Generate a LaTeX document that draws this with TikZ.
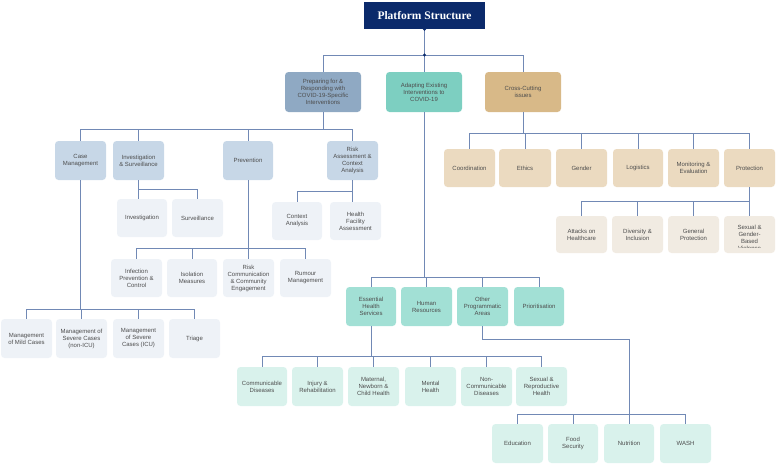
\documentclass[tikz,border=0pt]{standalone}
\usepackage{fontspec}
\newfontfamily\boxfont{Liberation Sans}
\newfontfamily\titlefont{Liberation Serif}
\definecolor{navy}{HTML}{0B2A6B}
\definecolor{lineC}{HTML}{7189B5}
\definecolor{txt}{HTML}{4D4D4D}
\definecolor{prepC}{HTML}{8FA9C3}
\definecolor{adaptC}{HTML}{7DCFC1}
\definecolor{crossC}{HTML}{D8B988}
\definecolor{blueB}{HTML}{C7D7E7}
\definecolor{blueC}{HTML}{EEF2F7}
\definecolor{tanB}{HTML}{EBDAC0}
\definecolor{tanC}{HTML}{F1EBE2}
\definecolor{tealB}{HTML}{A2E0D5}
\definecolor{tealC}{HTML}{D9F2EC}
\tikzset{
  box/.style={rounded corners=3.5pt, align=center, inner sep=0pt, text=txt,
    font=\boxfont\fontsize{6}{7}\selectfont},
  titlebox/.style={fill=navy, align=center, inner sep=0pt, text=white,
    font=\titlefont\bfseries\fontsize{11.5}{13}\selectfont},
  conn/.style={draw=lineC, line width=0.8pt},
  L1p/.style={box, fill=prepC}, L1a/.style={box, fill=adaptC}, L1c/.style={box, fill=crossC},
  L2b/.style={box, fill=blueB}, L3b/.style={box, fill=blueC},
  L2t/.style={box, fill=tanB}, L3t/.style={box, fill=tanC},
  L2g/.style={box, fill=tealB}, L3g/.style={box, fill=tealC},
}
\newcommand\pbox[7]{\node[#6, minimum width={(#4-#2)*1pt}, minimum height={(#5-#3)*1pt}] (#1) at ({(#2+#4)/2},{(#3+#5)/2}) {#7};}
\begin{document}
\begin{tikzpicture}[x=1pt,y=-1pt]
\useasboundingbox (0,0) rectangle (778,464);
% title and level 1
\pbox{title}{364}{2}{485}{29}{titlebox}{Platform Structure}
\pbox{prep}{285}{72}{361}{112}{L1p}{Preparing for \&\\Responding with\\COVID-19-Specific\\Interventions}
\pbox{adapt}{386}{72}{462}{112}{L1a}{Adapting Existing\\Interventions to\\COVID-19}
\pbox{cross}{485}{72}{561}{112}{L1c}{Cross-Cutting\\issues}
% preparing children
\pbox{case}{55}{141}{106}{180}{L2b}{Case\\Management}
\pbox{invsurv}{113}{141}{164}{180}{L2b}{Investigation\\\& Surveillance}
\pbox{prev}{223}{141}{273}{180}{L2b}{Prevention}
\pbox{risk}{327}{141}{378}{180}{L2b}{Risk\\Assessment \&\\Context\\Analysis}
\pbox{inv}{117}{199}{167}{237}{L3b}{Investigation}
\pbox{surv}{172}{199}{223}{237}{L3b}{Surveillance}
\pbox{ctx}{272}{202}{322}{240}{L3b}{Context\\Analysis}
\pbox{hfa}{330}{202}{381}{240}{L3b}{Health\\Facility\\Assessment}
\pbox{ipc}{111}{259}{162}{297}{L3b}{Infection\\Prevention \&\\Control}
\pbox{iso}{167}{259}{217}{297}{L3b}{Isolation\\Measures}
\pbox{rcce}{223}{259}{274}{297}{L3b}{Risk\\Communication\\\& Community\\Engagement}
\pbox{rum}{280}{259}{331}{297}{L3b}{Rumour\\Management}
\pbox{mild}{1}{319}{52}{358}{L3b}{Management\\of Mild Cases}
\pbox{nonicu}{56}{319}{107}{358}{L3b}{Management of\\Severe Cases\\(non-ICU)}
\pbox{icu}{113}{319}{164}{358}{L3b}{Management\\of Severe\\Cases (ICU)}
\pbox{tri}{169}{319}{220}{358}{L3b}{Triage}
% cross-cutting children
\pbox{coord}{444}{149}{495}{187}{L2t}{Coordination}
\pbox{eth}{499}{149}{551}{187}{L2t}{Ethics}
\pbox{gen}{556}{149}{607}{187}{L2t}{Gender}
\pbox{log}{613}{149}{663}{187}{L2t}{Logistics}
\pbox{mon}{668}{149}{719}{187}{L2t}{Monitoring \&\\Evaluation}
\pbox{prot}{724}{149}{775}{187}{L2t}{Protection}
\pbox{att}{556}{216}{607}{253}{L3t}{Attacks on\\Healthcare}
\pbox{div}{612}{216}{663}{253}{L3t}{Diversity \&\\Inclusion}
\pbox{gp}{668}{216}{719}{253}{L3t}{General\\Protection}
\pbox{sgbv}{724}{216}{775}{253}{L3t}{}
\begin{scope}
\clip (724,216) rectangle (775,247);
\node[box] at (749.5,238) {Sexual \&\\Gender-\\Based\\Violence};
\end{scope}
% adapting children
\pbox{ehs}{346}{287}{396}{326}{L2g}{Essential\\Health\\Services}
\pbox{hr}{401}{287}{452}{326}{L2g}{Human\\Resources}
\pbox{opa}{457}{287}{508}{326}{L2g}{Other\\Programmatic\\Areas}
\pbox{prio}{514}{287}{564}{326}{L2g}{Prioritisation}
\pbox{cd}{237}{367}{287}{406}{L3g}{Communicable\\Diseases}
\pbox{inj}{292}{367}{343}{406}{L3g}{Injury \&\\Rehabilitation}
\pbox{mnch}{348}{367}{399}{406}{L3g}{Maternal,\\Newborn \&\\Child Health}
\pbox{mh}{405}{367}{456}{406}{L3g}{Mental\\Health}
\pbox{ncd}{461}{367}{512}{406}{L3g}{Non-\\Communicable\\Diseases}
\pbox{srh}{516}{367}{567}{406}{L3g}{Sexual \&\\Reproductive\\Health}
\pbox{edu}{492}{424}{543}{463}{L3g}{Education}
\pbox{food}{548}{424}{598}{463}{L3g}{Food\\Security}
\pbox{nut}{604}{424}{654}{463}{L3g}{Nutrition}
\pbox{wash}{660}{424}{711}{463}{L3g}{WASH}
% bus levels
\coordinate (b55) at (0,55);
\coordinate (b129) at (0,129);
\coordinate (b133) at (0,133);
\coordinate (b189) at (0,189);
\coordinate (b191) at (0,191);
\coordinate (b201) at (0,201);
\coordinate (b248) at (0,248);
\coordinate (b277) at (0,277);
\coordinate (b309) at (0,309);
\coordinate (b339) at (0,339);
\coordinate (b356) at (0,356);
\coordinate (b414) at (0,414);
\coordinate (oturn) at (629,339);
% connectors
\foreach \c in {prep,adapt,cross} \draw[conn] (title.south) -- (title.south |- b55) -| (\c.north);
\foreach \c in {case,invsurv,prev,risk} \draw[conn] (prep.south) -- (prep.south |- b129) -| (\c.north);
\draw[conn] (invsurv.south) -- (invsurv.south |- inv.north);
\draw[conn] (invsurv.south) -- (invsurv.south |- b189) -| (surv.north);
\draw[conn] (risk.south) -- (risk.south |- hfa.north);
\draw[conn] (risk.south) -- (risk.south |- b191) -| (ctx.north);
\foreach \c in {ipc,iso,rcce,rum} \draw[conn] (prev.south) -- (prev.south |- b248) -| (\c.north);
\foreach \c in {mild,nonicu,icu,tri} \draw[conn] (case.south) -- (case.south |- b309) -| (\c.north);
\foreach \c in {coord,eth,gen,log,mon,prot} \draw[conn] (cross.south) -- (cross.south |- b133) -| (\c.north);
\foreach \c in {att,div,gp,sgbv} \draw[conn] (prot.south) -- (prot.south |- b201) -| (\c.north);
\foreach \c in {ehs,hr,opa,prio} \draw[conn] (adapt.south) -- (adapt.south |- b277) -| (\c.north);
\foreach \c in {cd,inj,mnch,mh,ncd,srh} \draw[conn] (ehs.south) -- (ehs.south |- b356) -| (\c.north);
\draw[conn] (opa.south) |- (oturn) -- (oturn |- b414);
\foreach \c in {edu,food,nut,wash} \draw[conn] (oturn |- b414) -| (\c.north);
\fill[navy] (title.south) circle (1.6);
\fill[navy] (title.south |- b55) circle (1.6);
\end{tikzpicture}
\end{document}
